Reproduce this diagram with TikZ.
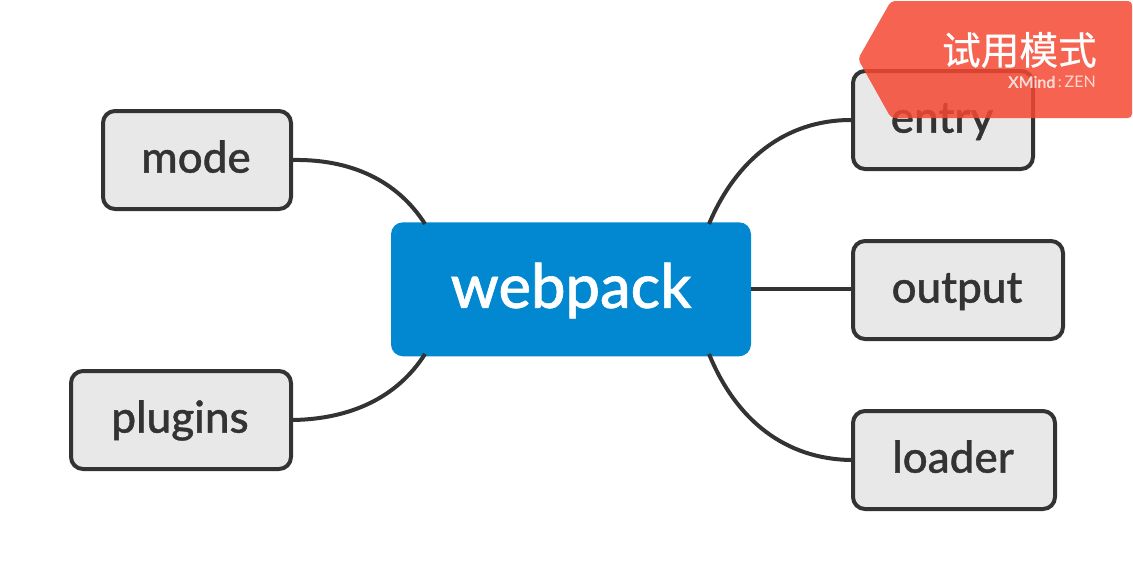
\documentclass[tikz,border=0pt]{standalone}
\usepackage{fontspec}
\setmainfont{Lato}[BoldFont={Lato Medium},BoldFeatures={FakeBold=0.9}]
\newfontfamily\cjk{Noto Sans CJK SC}[FakeBold=0.6]
\definecolor{ink}{HTML}{333333}
\definecolor{topicfill}{HTML}{E8E8E8}
\definecolor{hubblue}{HTML}{0288D1}
\definecolor{bannerred}{HTML}{F44831}
\tikzset{
  px/.style={x=0.75pt,y=-0.75pt},
  topic/.style={draw=ink,fill=topicfill,line width=3pt,rounded corners=9pt,inner sep=0pt,
    minimum height=73.5pt,text=ink,font=\fontsize{33}{36}\selectfont\bfseries,anchor=center,text height=19pt,text depth=0pt},
  hubnode/.style={fill=hubblue,rounded corners=9pt,inner sep=0pt,minimum width=270pt,minimum height=100.5pt,
    text=white,font=\fontsize{46}{50}\selectfont\bfseries,text height=28pt,text depth=0pt},
  link/.style={draw=ink,line width=3pt}
}
\begin{document}
\begin{tikzpicture}[px]
\useasboundingbox (0,0) rectangle (1133,579);
\node[hubnode] (hub) at (571,289.3) {webpack};
\node[topic,minimum width=135pt] (entry) at (943,120) {\hspace*{-1.5pt}entry};
\node[topic,minimum width=157.5pt] (output) at (958,290) {\hspace*{-1.5pt}output};
\node[topic,minimum width=151.5pt] (loader) at (954,460) {\hspace*{-1.5pt}loader};
\node[topic,minimum width=141pt] (mode) at (197,160) {\hspace*{-1.5pt}mode};
\node[topic,minimum width=165pt] (plugins) at (181,420) {\hspace*{-1.5pt}plugins};
\coordinate (hubNE) at (709,224);
\coordinate (hubSE) at (709,354);
\coordinate (hubNW) at (425,224);
\coordinate (hubSW) at (425,354);
\draw[link] (hubNE) .. controls (736,160) and (785,120) .. (entry.west);
\draw[link] (hubSE) .. controls (736,420) and (785,459) .. (loader.west);
\draw[link] (hub.east) -- (hub.east -| output.west);
\draw[link] (hubNW) .. controls (397,180) and (350,159) .. (mode.east);
\draw[link] (hubSW) .. controls (397,398) and (350,419) .. (plugins.east);
\path[fill=bannerred,fill opacity=0.85,draw=none,rounded corners=3pt]
  (858,59) -- (891,1) -- (1132,1) -- (1132,118) -- (891,118) -- cycle;
\node[inner sep=0pt,text=white,anchor=east,font=\cjk\fontsize{29}{32}\selectfont] (mark) at (1097,50) {试用模式};
\node[inner sep=0pt,text=white,opacity=0.75,anchor=east,font=\fontsize{12}{14}\selectfont] (brand) at (1096,82) {\textbf{XMind}\,:\,ZEN};
\end{tikzpicture}
\end{document}
